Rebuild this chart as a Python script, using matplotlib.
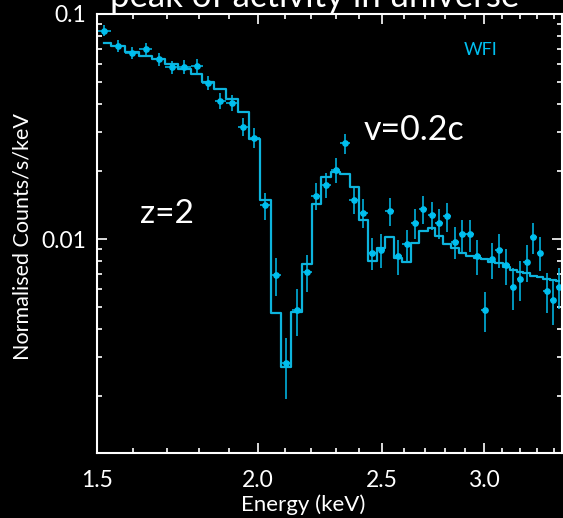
import matplotlib
matplotlib.use("Agg")
import matplotlib.pyplot as plt
from matplotlib.ticker import FixedLocator, FixedFormatter, NullFormatter

# spectre observe (keV, counts/s/keV) et modele
energy = [1.519, 1.558, 1.598, 1.637, 1.676, 1.715, 1.754, 1.793, 1.831, 1.871,
          1.910, 1.949, 1.988, 2.028, 2.066, 2.104, 2.145, 2.184, 2.222, 2.261,
          2.300, 2.339, 2.377, 2.417, 2.456, 2.495, 2.534, 2.573, 2.612, 2.651,
          2.691, 2.732, 2.769, 2.809, 2.848, 2.886, 2.926, 2.964, 3.004, 3.043,
          3.082, 3.121, 3.160, 3.200, 3.239, 3.277, 3.317, 3.357, 3.395, 3.433]
bin_half = 0.0195

counts = [0.0843, 0.0723, 0.0673, 0.0699, 0.0629, 0.0580, 0.0583, 0.0589, 0.0495, 0.0411,
          0.0403, 0.0316, 0.0282, 0.0141, 0.00690, 0.00280, 0.00484, 0.00716, 0.0156, 0.0174,
          0.0203, 0.0266, 0.0149, 0.0131, 0.00869, 0.00898, 0.0133, 0.00840, 0.00947, 0.0118,
          0.0136, 0.0128, 0.0118, 0.0126, 0.00973, 0.0105, 0.0105, 0.00840, 0.00485, 0.00815,
          0.00897, 0.00766, 0.00614, 0.00664, 0.00793, 0.0102, 0.00869, 0.00587, 0.00537, 0.00614]

counts_err = [0.0047, 0.0044, 0.0041, 0.0043, 0.0039, 0.0036, 0.0039, 0.0040, 0.0035, 0.0034,
              0.0033, 0.0029, 0.0029, 0.0019, 0.00134, 0.00085, 0.00115, 0.00137, 0.0021, 0.0022,
              0.0025, 0.0027, 0.0020, 0.0019, 0.00142, 0.00156, 0.0019, 0.00146, 0.00146, 0.0018,
              0.0019, 0.0018, 0.00175, 0.00187, 0.0016, 0.0017, 0.0017, 0.00146, 0.00099, 0.0015,
              0.00156, 0.00141, 0.00132, 0.00133, 0.00146, 0.00162, 0.00151, 0.0012, 0.00121, 0.00126]

model = [0.0745, 0.0723, 0.0676, 0.0651, 0.0629, 0.0600, 0.0571, 0.0540, 0.0500, 0.0463,
         0.0420, 0.0366, 0.0278, 0.0149, 0.00467, 0.00271, 0.00472, 0.00774, 0.0143, 0.0189,
         0.0198, 0.0194, 0.0171, 0.0122, 0.00801, 0.00909, 0.0102, 0.00826, 0.00793, 0.00957,
         0.0109, 0.0112, 0.0103, 0.00947, 0.00909, 0.00869, 0.00840, 0.00823, 0.00813, 0.00793,
         0.00780, 0.00749, 0.00728, 0.00716, 0.00704, 0.00687, 0.00676, 0.00664, 0.00657, 0.00651]

xmajor = [1.5, 2.0, 2.5, 3.0]
xmajor_labels = ["1.5", "2.0", "2.5", "3.0"]
xminor = [1.6, 1.7, 1.8, 1.9, 2.1, 2.2, 2.3, 2.4, 2.6, 2.7, 2.8, 2.9, 3.1, 3.2, 3.3, 3.4]
ymajor = [0.01, 0.1]
ymajor_labels = ["0.01", "0.1"]
yminor = [0.002, 0.003, 0.004, 0.005, 0.006, 0.007, 0.008, 0.009,
          0.02, 0.03, 0.04, 0.05, 0.06, 0.07, 0.08, 0.09]

plt.rcParams['font.family'] = ['Lato', 'DejaVu Sans']
data_col = '#00bfef'
model_col = '#0db4dd'

fig = plt.figure(figsize=(5.63, 5.18), dpi=100, facecolor='black')
ax = fig.add_axes([97 / 563, 65 / 518, 465 / 563, 439 / 518], facecolor='black')

ax.errorbar(energy, counts, yerr=counts_err, xerr=bin_half, fmt='o', ms=3.8,
            color=data_col, ecolor=data_col, elinewidth=1.1, capsize=0)
ax.step(energy, model, where='mid', color=model_col, lw=1.6)

ax.set_xscale('log')
ax.set_yscale('log')
ax.set_xlim(1.5, 3.45)
ax.set_ylim(0.00112, 0.1)

ax.xaxis.set_major_locator(FixedLocator(xmajor))
ax.xaxis.set_major_formatter(FixedFormatter(xmajor_labels))
ax.xaxis.set_minor_locator(FixedLocator(xminor))
ax.xaxis.set_minor_formatter(NullFormatter())
ax.yaxis.set_major_locator(FixedLocator(ymajor))
ax.yaxis.set_major_formatter(FixedFormatter(ymajor_labels))
ax.yaxis.set_minor_locator(FixedLocator(yminor))
ax.yaxis.set_minor_formatter(NullFormatter())

for s in ax.spines.values():
    s.set_color('white')
    s.set_linewidth(1.5)
ax.tick_params(which='both', direction='in', top=True, right=True, colors='white', width=1.2)
ax.tick_params(which='major', length=7, labelsize=16.5)
ax.tick_params(axis='x', which='major', pad=12)
ax.tick_params(axis='y', which='major', pad=8)
ax.tick_params(which='minor', length=3.5)

ax.set_xlabel("Energy (keV)", color='white', fontsize=16)
ax.xaxis.set_label_coords((303 - 97) / 465, -(494 - 453) / 439)
ax.set_ylabel("Normalised Counts/s/keV", color='white', fontsize=15.5)
ax.yaxis.set_label_coords(-(97 - 33) / 465, (453 - 237) / 439)

ax.text(0.1505, 0.544, "z=2", color='white', fontsize=24, ha='center', va='center', transform=ax.transAxes)
ax.text(0.682, 0.736, "v=0.2c", color='white', fontsize=24.5, ha='center', va='center', transform=ax.transAxes)
ax.text(0.826, 0.918, "WFI", color=data_col, fontsize=13, ha='center', va='center', transform=ax.transAxes)

# titre coupe en haut comme sur l'original
fig.text(315 / 563, 1 - 7 / 518, "peak of activity in universe", color='white', fontsize=25,
         ha='center', va='baseline')

fig.savefig("out.png", dpi=100, facecolor='black')
